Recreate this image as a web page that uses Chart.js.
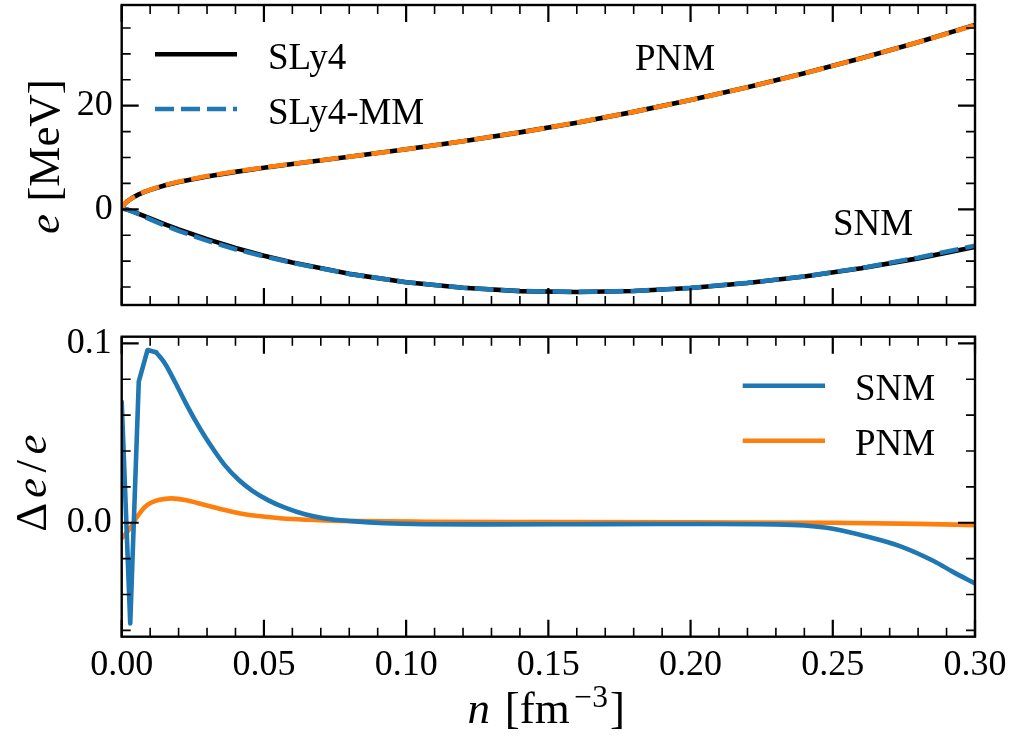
<!DOCTYPE html>
<html><head><meta charset="utf-8">
<script src="https://cdn.jsdelivr.net/npm/chart.js@4.4.1/dist/chart.umd.min.js"></script>
<style>
html,body{margin:0;padding:0;background:#fff;}
#wrap{position:relative;width:1010px;height:742px;overflow:hidden;background:#fff;}
#c1{position:absolute;left:0;top:0;}
#c2{position:absolute;left:0;top:320px;}
</style></head><body>
<div id="wrap"><canvas id="c1" width="1010" height="320"></canvas><canvas id="c2" width="1010" height="422"></canvas></div>
<script>
// ---------------- data ----------------
const nTop = [0, 0.0002, 0.0005, 0.001, 0.002, 0.004, 0.006, 0.008, 0.01, 0.015, 0.02, 0.03, 0.04, 0.05, 0.06, 0.08, 0.10, 0.12, 0.14, 0.16, 0.18, 0.20, 0.22, 0.24, 0.26, 0.28, 0.30];
const eSLy4PNM = [0, 0.38, 0.67, 1.03, 1.55, 2.31, 2.88, 3.36, 3.76, 4.60, 5.28, 6.35, 7.23, 8.01, 8.73, 10.14, 11.58, 13.14, 14.85, 16.73, 18.81, 21.08, 23.56, 26.25, 29.15, 32.26, 35.60];
const eSLy4SNM = [0, 0.11, 0.13, 0.09, -0.06, -0.45, -0.88, -1.32, -1.76, -2.84, -3.86, -5.76, -7.45, -8.96, -10.27, -12.46, -14.07, -15.15, -15.79, -15.96, -15.77, -15.18, -14.21, -12.98, -11.37, -9.47, -7.26];
const eMMPNM = [0, 0.38, 0.67, 1.02, 1.54, 2.30, 2.89, 3.38, 3.79, 4.65, 5.34, 6.43, 7.30, 8.06, 8.77, 10.15, 11.58, 13.14, 14.85, 16.73, 18.81, 21.08, 23.56, 26.25, 29.14, 32.24, 35.55];
const eMMSNM = [0, 0.11, 0.13, 0.10, -0.05, -0.47, -0.95, -1.45, -1.93, -3.10, -4.15, -6.05, -7.70, -9.08, -10.33, -12.47, -14.07, -15.14, -15.78, -15.95, -15.76, -15.17, -14.20, -12.96, -11.33, -9.33, -7.01];

const nDeltaSNM = [0, 0.0030, 0.0060, 0.0091, 0.0121, 0.0152, 0.0187, 0.0223, 0.0258, 0.0293, 0.0328, 0.0363, 0.0410, 0.0457, 0.0516, 0.0574, 0.0644, 0.0715, 0.0809, 0.0926, 0.1066, 0.13, 0.16, 0.19, 0.21, 0.23, 0.24, 0.25, 0.2619, 0.2736, 0.2853, 0.2924, 0.30];
const deltaSNM = [0.0674, -0.0561, 0.0786, 0.0963, 0.0950, 0.0888, 0.0786, 0.0674, 0.0572, 0.0479, 0.0396, 0.0320, 0.0241, 0.0181, 0.0125, 0.0084, 0.0047, 0.0024, 0.0009, -0.0003, -0.0008, -0.0009, -0.0008, -0.0007, -0.0007, -0.0009, -0.0015, -0.0033, -0.0076, -0.0130, -0.0212, -0.0275, -0.0338];
const nDeltaPNM = [0, 0.0029, 0.0055, 0.0082, 0.0105, 0.0129, 0.0176, 0.0223, 0.0293, 0.0363, 0.0433, 0.0504, 0.0598, 0.0715, 0.0832, 0.1066, 0.15, 0.20, 0.25, 0.28, 0.30];
const deltaPNM = [-0.0087, -0.0031, 0.0035, 0.0089, 0.0113, 0.0127, 0.0136, 0.0127, 0.0099, 0.0071, 0.0047, 0.0034, 0.0021, 0.0013, 0.0009, 0.0006, 0.0004, 0.0002, 0.0000, -0.0006, -0.0013];

const xTicks = [0, 0.05, 0.10, 0.15, 0.20, 0.25, 0.30];
const xTickLabels = ['0.00', '0.05', '0.10', '0.15', '0.20', '0.25', '0.30'];
const yTopTicks = [0, 20];
const yTopTickLabels = ['0', '20'];
const yBotTicks = [0, 0.1];
const yBotTickLabels = ['0.0', '0.1'];

// ---------------- helpers ----------------
const SERIF = "'Liberation Serif', 'Times New Roman', serif";
const BLUE = '#1f77b4', ORANGE = '#ff7f0e';
function fnt(size, it) { return (it ? 'italic ' : '') + size + 'px ' + SERIF; }
function pts(xs, ys) { return xs.map((x, i) => ({x: x, y: ys[i]})); }
function range(a, b, s) { const r = []; for (let v = a; v <= b + s * 1e-6; v += s) r.push(+v.toFixed(6)); return r; }
function minorOf(all, majors) { return all.filter(v => !majors.some(m => Math.abs(m - v) < 1e-9)); }
function noPad(s) { s.paddingTop = 0; s.paddingBottom = 0; s.paddingLeft = 0; s.paddingRight = 0; }

const framePlugin = {
  id: 'frame',
  afterDatasetsDraw(chart, args, o) {
    const {ctx, chartArea: a} = chart;
    const xs = chart.scales.x, ys = chart.scales.y;
    ctx.save();
    ctx.strokeStyle = '#000';
    ctx.lineCap = 'butt';
    const sets = [[o.xMajor, o.yMajor, 17, 2.2], [o.xMinor, o.yMinor, 9, 1.6]];
    for (const [xv, yv, len, lw] of sets) {
      ctx.lineWidth = lw;
      ctx.beginPath();
      for (const v of xv) {
        const p = xs.getPixelForValue(v);
        ctx.moveTo(p, a.bottom); ctx.lineTo(p, a.bottom - len);
        ctx.moveTo(p, a.top); ctx.lineTo(p, a.top + len);
      }
      for (const v of yv) {
        const p = ys.getPixelForValue(v);
        ctx.moveTo(a.left, p); ctx.lineTo(a.left + len, p);
        ctx.moveTo(a.right, p); ctx.lineTo(a.right - len, p);
      }
      ctx.stroke();
    }
    ctx.lineWidth = 2.4;
    ctx.strokeRect(a.left, a.top, a.right - a.left, a.bottom - a.top);
    ctx.restore();
  }
};

function drawRich(ctx, parts, x, y, rot) {
  ctx.save();
  ctx.translate(x, y);
  ctx.rotate(rot);
  const total = parts.reduce((s, p) => s + p.adv * p.size, 0);
  let cx = -total / 2;
  ctx.textBaseline = 'alphabetic';
  ctx.textAlign = 'left';
  ctx.fillStyle = '#000';
  for (const p of parts) {
    ctx.font = fnt(p.size, p.it);
    const w = ctx.measureText(p.t).width;
    ctx.fillText(p.t, cx + (p.adv * p.size - w) / 2, p.dy || 0);
    cx += p.adv * p.size;
  }
  ctx.restore();
}

const textPlugin = {
  id: 'texts',
  afterDraw(chart, args, o) {
    const ctx = chart.ctx;
    ctx.save();
    for (const L of (o.legend || [])) {
      ctx.strokeStyle = L.color;
      ctx.lineWidth = L.lw;
      ctx.lineCap = 'butt';
      ctx.setLineDash(L.dash || []);
      ctx.beginPath(); ctx.moveTo(L.x0, L.y); ctx.lineTo(L.x1, L.y); ctx.stroke();
      ctx.setLineDash([]);
      ctx.fillStyle = '#000';
      ctx.font = fnt(37, false);
      ctx.textBaseline = 'alphabetic';
      ctx.textAlign = 'left';
      ctx.fillText(L.label, L.tx, L.ty);
    }
    for (const T of (o.notes || [])) {
      ctx.fillStyle = '#000';
      ctx.font = fnt(37, false);
      ctx.textBaseline = 'alphabetic';
      ctx.textAlign = 'left';
      ctx.fillText(T.t, T.x, T.y);
    }
    for (const R of (o.rich || [])) drawRich(ctx, R.parts, R.x, R.y, R.rot);
    ctx.restore();
  }
};

function tickScale(values, labels, opts) {
  return Object.assign({
    type: 'linear',
    grid: {display: false, drawTicks: false, tickLength: 0},
    border: {display: false},
    afterBuildTicks: s => { s.ticks = values.map(v => ({value: v})); },
    ticks: {
      autoSkip: false, maxRotation: 0, minRotation: 0, color: '#000',
      font: {family: SERIF, size: 36},
      callback: (v, i) => labels[i]
    }
  }, opts);
}

// ---------------- top panel ----------------
const xMinorAll = range(0, 0.30, 0.01);
new Chart(document.getElementById('c1'), {
  type: 'line',
  data: {datasets: [
    {data: pts(nTop, eMMPNM), borderColor: ORANGE, borderWidth: 4.6, borderDash: [19, 7], order: 0},
    {data: pts(nTop, eMMSNM), borderColor: BLUE, borderWidth: 4.6, borderDash: [19, 7], order: 0},
    {data: pts(nTop, eSLy4PNM), borderColor: '#000', borderWidth: 4.6, order: 1},
    {data: pts(nTop, eSLy4SNM), borderColor: '#000', borderWidth: 4.6, order: 1}
  ]},
  options: {
    responsive: false, animation: false, devicePixelRatio: 1, events: [],
    layout: {padding: {left: 0, right: 35, top: 5, bottom: 0}},
    elements: {point: {radius: 0}, line: {tension: 0, borderJoinStyle: 'round', borderCapStyle: 'butt'}},
    datasets: {line: {clip: 0}},
    scales: {
      x: tickScale(xTicks, xTickLabels, {min: 0, max: 0.30, afterFit: s => { s.height = 15; noPad(s); },
        ticks: {display: false}}),
      y: tickScale(yTopTicks, yTopTickLabels, {min: -18.47, max: 39.44, afterFit: s => { s.width = 121.7; noPad(s); },
        ticks: {padding: 9, color: '#000', font: {family: SERIF, size: 36}, callback: (v, i) => yTopTickLabels[i]}})
    },
    plugins: {
      legend: {display: false}, tooltip: {enabled: false},
      frame: {xMajor: xTicks, xMinor: minorOf(xMinorAll, xTicks), yMajor: yTopTicks, yMinor: minorOf(range(-15, 35, 5), yTopTicks)},
      texts: {
        legend: [
          {color: '#000', lw: 4.6, x0: 155, x1: 237, y: 54.2, label: 'SLy4', tx: 268, ty: 69},
          {color: BLUE, lw: 4.6, dash: [19, 7], x0: 155, x1: 237, y: 109, label: 'SLy4-MM', tx: 268, ty: 123.5}
        ],
        notes: [{t: 'PNM', x: 635, y: 70}, {t: 'SNM', x: 833, y: 235}],
        rich: [{x: 59, y: 156.5, rot: -Math.PI / 2, parts: [
          {t: 'e', size: 45, it: true, adv: 0.466},
          {t: ' [MeV]', size: 45, it: false, adv: 3.0}
        ]}]
      }
    }
  },
  plugins: [framePlugin, textPlugin]
});

// ---------------- bottom panel ----------------
const SPIKE_END = 5; // the sampled spike part is drawn with straight segments, the rest smoothly
new Chart(document.getElementById('c2'), {
  type: 'line',
  data: {datasets: [
    {data: pts(nDeltaSNM.slice(0, SPIKE_END), deltaSNM.slice(0, SPIKE_END)), borderColor: BLUE, borderWidth: 4.6},
    {data: pts(nDeltaSNM.slice(SPIKE_END - 1), deltaSNM.slice(SPIKE_END - 1)), borderColor: BLUE, borderWidth: 4.6, cubicInterpolationMode: 'monotone'},
    {data: pts(nDeltaPNM, deltaPNM), borderColor: ORANGE, borderWidth: 4.6, cubicInterpolationMode: 'monotone'}
  ]},
  options: {
    responsive: false, animation: false, devicePixelRatio: 1, events: [],
    layout: {padding: {left: 0, right: 35, top: 16.7, bottom: 0}},
    elements: {point: {radius: 0}, line: {tension: 0, borderJoinStyle: 'round', borderCapStyle: 'round'}},
    datasets: {line: {clip: 0}},
    scales: {
      x: tickScale(xTicks, xTickLabels, {min: 0, max: 0.30, afterFit: s => { s.height = 105.3; noPad(s); },
        ticks: {padding: 7, autoSkip: false, maxRotation: 0, color: '#000', font: {family: SERIF, size: 36}, callback: (v, i) => xTickLabels[i]}}),
      y: tickScale(yBotTicks, yBotTickLabels, {min: -0.0635, max: 0.1037, afterFit: s => { s.width = 121.7; noPad(s); },
        ticks: {padding: 10, color: '#000', font: {family: SERIF, size: 36}, callback: (v, i) => yBotTickLabels[i]}})
    },
    plugins: {
      legend: {display: false}, tooltip: {enabled: false},
      frame: {xMajor: xTicks, xMinor: minorOf(xMinorAll, xTicks), yMajor: yBotTicks, yMinor: minorOf(range(-0.06, 0.1, 0.02), yBotTicks)},
      texts: {
        legend: [
          {color: BLUE, lw: 4.6, x0: 742.7, x1: 825, y: 65.7, label: 'SNM', tx: 855, ty: 80},
          {color: ORANGE, lw: 4.6, x0: 742.7, x1: 825, y: 120.7, label: 'PNM', tx: 855, ty: 135}
        ],
        rich: [
          {x: 46, y: 165, rot: -Math.PI / 2, parts: [
            {t: 'Δ', size: 45, it: false, adv: 0.833},
            {t: 'e', size: 45, it: true, adv: 0.466},
            {t: '/', size: 45, it: false, adv: 0.5},
            {t: 'e', size: 45, it: true, adv: 0.466}
          ]},
          {x: 544.5, y: 403, rot: 0, parts: [
            {t: 'n', size: 45, it: true, adv: 0.6},
            {t: ' [fm', size: 45, it: false, adv: 1.75},
            {t: '−3', size: 31.5, it: false, adv: 1.278, dy: -16},
            {t: ']', size: 45, it: false, adv: 0.278}
          ]}
        ]
      }
    }
  },
  plugins: [framePlugin, textPlugin]
});
</script>
</body></html>
